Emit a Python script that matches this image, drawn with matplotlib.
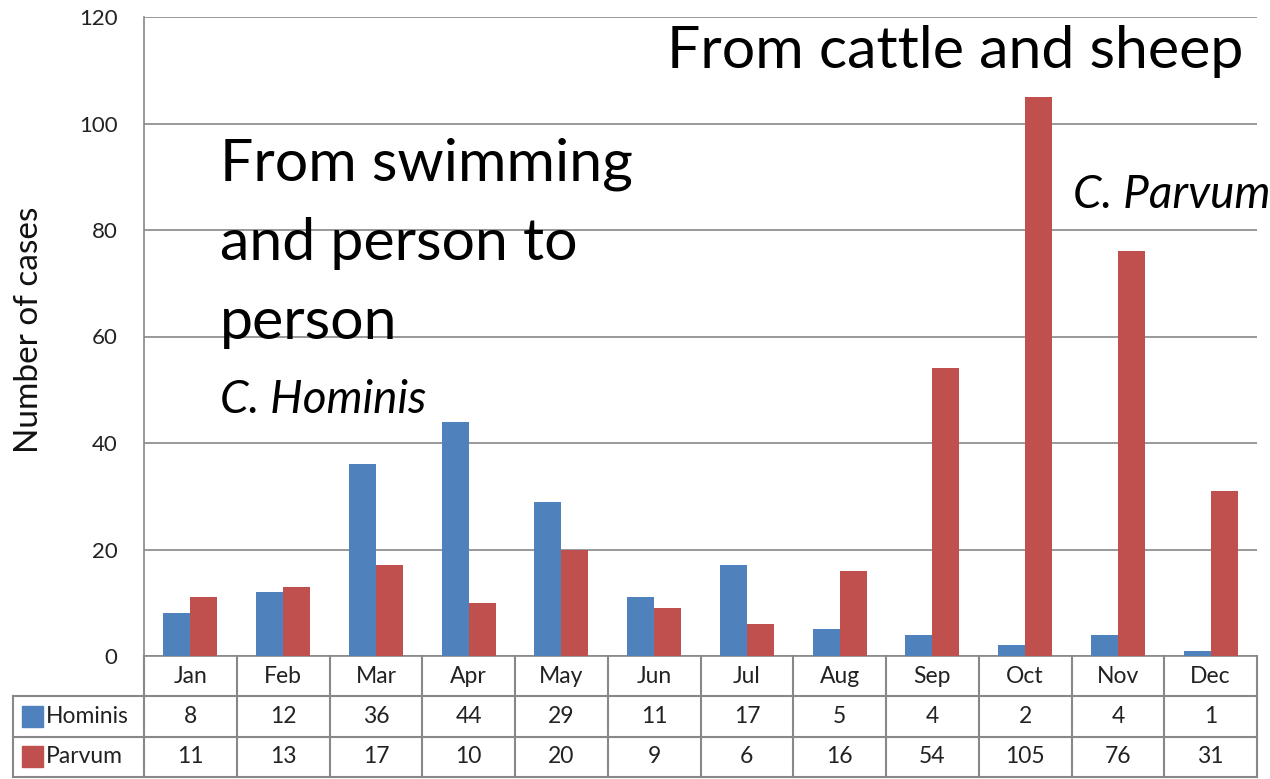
import matplotlib.pyplot as plt
import numpy as np
from matplotlib.transforms import blended_transform_factory

# ---------------------- DATOS ---------------------- #
months = ["Jan", "Feb", "Mar", "Apr", "May", "Jun", "Jul", "Aug", "Sep", "Oct", "Nov", "Dec"]
hominis = [8, 12, 36, 44, 29, 11, 17, 5, 4, 2, 4, 1]
parvum = [11, 13, 17, 10, 20, 9, 6, 16, 54, 105, 76, 31]
series_names = ["Hominis", "Parvum"]

blue = "#4F81BD"
red = "#C0504D"
grid_c = "#888888"
txt_c = "#222222"

plt.rcParams['font.family'] = ['Lato', 'DejaVu Sans']

fig = plt.figure(figsize=(12.7, 7.79), dpi=100)
ax = fig.add_axes([144 / 1270, 1 - 656 / 779, 1113 / 1270, 639 / 779])

x = np.arange(len(months))
w = 0.291
ax.bar(x - w / 2, hominis, w, color=blue, zorder=3)
ax.bar(x + w / 2, parvum, w, color=red, zorder=3)

ax.set_xlim(-0.5, len(months) - 0.5)
ax.set_ylim(0, 120)
ax.set_yticks(range(0, 121, 20))
ax.yaxis.grid(True, color=grid_c, linewidth=1.2, zorder=0)
ax.set_xticks([])
ax.tick_params(axis='y', length=0, pad=19, labelsize=16, labelcolor=txt_c)
for s in ["top", "right"]:
    ax.spines[s].set_visible(False)
ax.spines["left"].set_color(grid_c)
ax.spines["bottom"].set_color(grid_c)
ax.spines["left"].set_linewidth(1.2)
ax.spines["bottom"].set_linewidth(1.2)
ax.set_ylabel("Number of cases", fontsize=24, color="#111111")
ax.yaxis.set_label_coords(-0.09, 0.51)

# ---------------------- TABLA ---------------------- #
tr = blended_transform_factory(ax.transData, ax.transAxes)
row_h = 40.3 / 639
label_left = -0.5 - 131 / 92.75
lc = dict(color=grid_c, linewidth=1.5, transform=tr, clip_on=False)
n = len(months)
ax.plot([label_left, n - 0.5], [-row_h, -row_h], **lc)
ax.plot([label_left, n - 0.5], [-2 * row_h, -2 * row_h], **lc)
ax.plot([label_left, n - 0.5], [-3 * row_h, -3 * row_h], **lc)
for i in range(n + 1):
    ax.plot([i - 0.5, i - 0.5], [0, -3 * row_h], **lc)
ax.plot([label_left, label_left], [-row_h, -3 * row_h], **lc)

tfs = 16.5
for i, m in enumerate(months):
    ax.text(i, -0.5 * row_h, m, transform=tr, ha='center', va='center', fontsize=tfs, color=txt_c)
    ax.text(i, -1.5 * row_h, str(hominis[i]), transform=tr, ha='center', va='center', fontsize=tfs, color=txt_c)
    ax.text(i, -2.5 * row_h, str(parvum[i]), transform=tr, ha='center', va='center', fontsize=tfs, color=txt_c)

for r, (name, col) in enumerate(zip(series_names, [blue, red])):
    yc = -(1.5 + r) * row_h
    ax.add_patch(plt.Rectangle((label_left + 0.1, yc - 0.5 * 21 / 639), 0.225, 21 / 639,
                               color=col, transform=tr, clip_on=False))
    ax.text(label_left + 0.35, yc, name, transform=tr, ha='left', va='center', fontsize=tfs, color=txt_c)

# ---------------------- ANOTACIONES ---------------------- #
fig.text(667 / 1270, 1 - 52 / 779, "From cattle and sheep", fontsize=42.5, ha='left', va='center')
fig.text(1073 / 1270, 1 - 195 / 779, "C. Parvum", fontsize=33, style='italic', ha='left', va='center')
fig.text(220 / 1270, 1 - 243 / 779, "From swimming\nand person to\nperson", fontsize=42.5, ha='left',
         va='center', linespacing=1.6)
fig.text(220 / 1270, 1 - 400 / 779, "C. Hominis", fontsize=33, style='italic', ha='left', va='center')

fig.savefig("out.png", dpi=100)
